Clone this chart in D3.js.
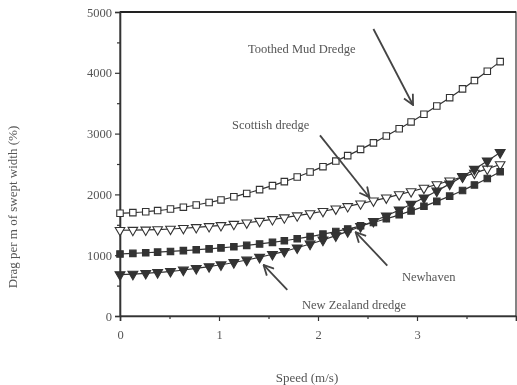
<!DOCTYPE html>
<html>
<head>
<meta charset="utf-8">
<script src="https://cdn.jsdelivr.net/npm/d3@7"></script>
<style>
  html, body { margin: 0; padding: 0; background: #fff; }
  svg { display: block; filter: blur(0.45px); }
  text { font-family: "Liberation Serif", "Times New Roman", serif; fill: #555; }
</style>
</head>
<body>
<svg id="chart" width="517" height="385"></svg>
<script>
// ---- data ----
const speeds = [0.00, 0.13, 0.26, 0.38, 0.51, 0.64, 0.77, 0.90, 1.02, 1.15, 1.28, 1.41, 1.54, 1.66, 1.79, 1.92,
                2.05, 2.18, 2.30, 2.43, 2.56, 2.69, 2.82, 2.94, 3.07, 3.20, 3.33, 3.46, 3.58, 3.71, 3.84];
const toothedMud = [1690, 1700, 1715, 1734, 1760, 1790, 1826, 1867, 1909, 1961, 2016, 2078, 2144, 2210, 2287, 2369,
                    2456, 2548, 2638, 2740, 2847, 2960, 3079, 3192, 3319, 3453, 3591, 3735, 3872, 4025, 4184];
const scottish   = [1410, 1412, 1416, 1422, 1431, 1443, 1457, 1473, 1490, 1511, 1534, 1560, 1588, 1617, 1650, 1685,
                    1723, 1763, 1802, 1847, 1895, 1944, 1997, 2047, 2104, 2163, 2225, 2289, 2351, 2420, 2491];
const newhaven   = [1020, 1030, 1040, 1050, 1062, 1075, 1089, 1104, 1120, 1139, 1161, 1185, 1211, 1238, 1271, 1306,
                    1346, 1389, 1432, 1483, 1538, 1599, 1664, 1728, 1804, 1885, 1971, 2064, 2156, 2261, 2373];
const newZealand = [680, 689, 702, 716, 735, 757, 783, 813, 843, 880, 921, 966, 1015, 1064, 1122, 1184,
                    1250, 1321, 1391, 1472, 1558, 1648, 1744, 1838, 1944, 2056, 2173, 2296, 2415, 2550, 2690];
const xTicks = [0, 1, 2, 3, 4];
const xTickLabels = ["0", "1", "2", "3", ""];
const yTicks = [0, 1000, 2000, 3000, 4000, 5000];
const seriesNames = ["Toothed Mud Dredge", "Scottish dredge", "Newhaven", "New Zealand dredge"];
const xTitle = "Speed (m/s)";
const yTitle = "Drag per m of swept width (%)";

// ---- layout ----
const svg = d3.select("#chart");
const x = d3.scaleLinear().domain([0, 4]).range([120, 516]);
const y = d3.scaleLinear().domain([0, 5000]).range([316, 12]);
const ink = "#333";

// frame
svg.append("rect").attr("x", x(0)).attr("y", y(5000)).attr("width", x(4) - x(0)).attr("height", y(0) - y(5000))
  .attr("fill", "none").attr("stroke", ink).attr("stroke-width", 1.2);
svg.append("line").attr("x1", x(0)).attr("x2", x(4)).attr("y1", y(5000)).attr("y2", y(5000))
  .attr("stroke", "#222").attr("stroke-width", 2);

// axes
const xAxis = d3.axisBottom(x).tickValues(xTicks).tickFormat((d, i) => xTickLabels[i]).tickSize(5).tickPadding(9);
svg.append("g").attr("transform", `translate(0,${y(0)})`).call(xAxis);
const xMinor = d3.axisBottom(x).tickValues(d3.range(0.5, 4, 1)).tickFormat("").tickSize(3);
svg.append("g").attr("transform", `translate(0,${y(0)})`).call(xMinor).select(".domain").remove();

const yAxis = d3.axisLeft(y).tickValues(yTicks).tickFormat(d3.format("d")).tickSize(5).tickPadding(3);
svg.append("g").attr("transform", `translate(${x(0)},0)`).call(yAxis);
const yMinor = d3.axisLeft(y).tickValues(d3.range(500, 5000, 1000)).tickFormat("").tickSize(3);
svg.append("g").attr("transform", `translate(${x(0)},0)`).call(yMinor).select(".domain").remove();

svg.selectAll(".domain").attr("stroke", ink).attr("stroke-width", 1.6);
svg.selectAll(".tick line").attr("stroke", ink).attr("stroke-width", 1.2);
svg.selectAll(".tick text").attr("font-size", 12.5).attr("fill", "#555")
  .attr("font-family", "Liberation Serif, serif");

// axis titles
svg.append("text").attr("x", 307).attr("y", 382).attr("text-anchor", "middle")
  .attr("font-size", 13).text(xTitle);
svg.append("text").attr("transform", "translate(17,207) rotate(-90)").attr("text-anchor", "middle")
  .attr("font-size", 13).text(yTitle);

// series
const line = d3.line().x(d => x(d[0])).y(d => y(d[1])).curve(d3.curveMonotoneX);
const series = [
  { name: seriesNames[0], values: toothedMud, sym: d3.symbolSquare, size: 42, fill: "#fff" },
  { name: seriesNames[1], values: scottish,   sym: d3.symbolTriangle, size: 40, fill: "#fff", flip: true },
  { name: seriesNames[2], values: newhaven,   sym: d3.symbolSquare, size: 42, fill: ink },
  { name: seriesNames[3], values: newZealand, sym: d3.symbolTriangle, size: 42, fill: ink, flip: true }
];
series.forEach(s => {
  const pts = speeds.map((v, i) => [v, s.values[i]]);
  svg.append("path").attr("d", line(pts)).attr("fill", "none").attr("stroke", ink).attr("stroke-width", 1.2);
  svg.append("g").selectAll("path").data(pts).join("path")
    .attr("d", d3.symbol().type(s.sym).size(s.size))
    .attr("transform", d => `translate(${x(d[0])},${y(d[1])})${s.flip ? " rotate(180)" : ""}`)
    .attr("fill", s.fill).attr("stroke", ink).attr("stroke-width", 1.1);
});

// arrow marker
svg.append("defs").append("marker").attr("id", "arr").attr("viewBox", "0 0 12 12")
  .attr("refX", 11).attr("refY", 6).attr("markerWidth", 12).attr("markerHeight", 12)
  .attr("markerUnits", "userSpaceOnUse").attr("orient", "auto")
  .append("path").attr("d", "M1,1 L11,6 L1,11").attr("fill", "none").attr("stroke", "#444").attr("stroke-width", 1.8);

// annotations (label position, arrow start -> arrow tip, in data units)
const notes = [
  { text: seriesNames[0], tx: 248, ty: 53, from: [2.56, 4720], to: [2.96, 3470] },
  { text: seriesNames[1], tx: 232, ty: 129, from: [2.02, 2970], to: [2.52, 1950] },
  { text: seriesNames[2], tx: 402, ty: 281, from: [2.70, 830], to: [2.38, 1380] },
  { text: seriesNames[3], tx: 302, ty: 309, from: [1.69, 430], to: [1.45, 840] }
];
notes.forEach(n => {
  svg.append("text").attr("x", n.tx).attr("y", n.ty).attr("font-size", 12.5).text(n.text);
  svg.append("line").attr("x1", x(n.from[0])).attr("y1", y(n.from[1]))
    .attr("x2", x(n.to[0])).attr("y2", y(n.to[1]))
    .attr("stroke", "#444").attr("stroke-width", 1.8).attr("marker-end", "url(#arr)");
});
</script>
</body>
</html>
